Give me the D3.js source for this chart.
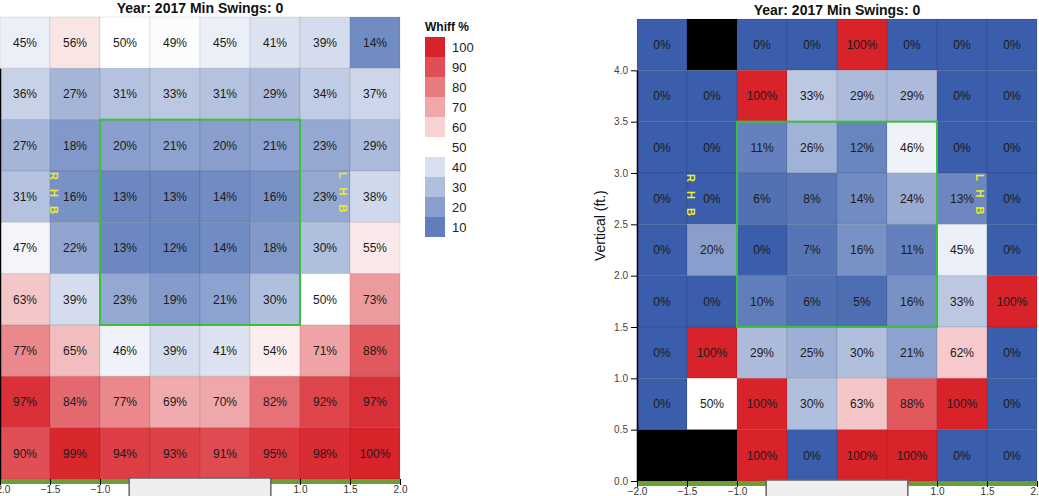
<!DOCTYPE html>
<html><head><meta charset="utf-8">
<script src="https://cdn.jsdelivr.net/npm/d3@7/dist/d3.min.js"></script>
<style>
body{margin:0;background:#fff;font-family:"Liberation Sans",Arial,sans-serif;}
svg{display:block}
</style></head><body>
<svg id="chart" width="1039" height="496"></svg>
<script>
// Horizontal bins (left edge, ft) and vertical bins (bottom edge, ft), top row first
const xBins = [-2.0, -1.5, -1.0, -0.5, 0.0, 0.5, 1.0, 1.5];
const zBins = [4.0, 3.5, 3.0, 2.5, 2.0, 1.5, 1.0, 0.5, 0.0];
const binSize = 0.5;
const titleText = "Year: 2017 Min Swings: 0";

// Left panel: Whiff % by zone (rows top to bottom)
const leftValues = [
  [45, 56, 50, 49, 45, 41, 39, 14],
  [36, 27, 31, 33, 31, 29, 34, 37],
  [27, 18, 20, 21, 20, 21, 23, 29],
  [31, 16, 13, 13, 14, 16, 23, 38],
  [47, 22, 13, 12, 14, 18, 30, 55],
  [63, 39, 23, 19, 21, 30, 50, 73],
  [77, 65, 46, 39, 41, 54, 71, 88],
  [97, 84, 77, 69, 70, 82, 92, 97],
  [90, 99, 94, 93, 91, 95, 98, 100]
];
// Right panel (null = no data, drawn black)
const rightValues = [
  [0, null, 0, 0, 100, 0, 0, 0],
  [0, 0, 100, 33, 29, 29, 0, 0],
  [0, 0, 11, 26, 12, 46, 0, 0],
  [0, 0, 6, 8, 14, 24, 13, 0],
  [0, 20, 0, 7, 16, 11, 45, 0],
  [0, 0, 10, 6, 5, 16, 33, 100],
  [0, 100, 29, 25, 30, 21, 62, 0],
  [0, 50, 100, 30, 63, 88, 100, 0],
  [null, null, 100, 0, 100, 100, 0, 0]
];
const legendSteps = [100, 90, 80, 70, 60, 50, 40, 30, 20, 10];
const xTicks = [-2.0, -1.5, -1.0, -0.5, 0.0, 0.5, 1.0, 1.5, 2.0];
const yTicks = [0.0, 0.5, 1.0, 1.5, 2.0, 2.5, 3.0, 3.5, 4.0];
const zone = {x0: -1.0, x1: 1.0, z0: 1.5, z1: 3.5};
const plateHalf = 17 / 24; // half of 17 in, in feet

const color = d3.scaleLinear().domain([0, 50, 100])
  .range(["#3a5eab", "#ffffff", "#d8232a"]);

const svg = d3.select("#chart");

function panel(values, ox, top, bottom, showYText) {
  const g = svg.append("g");
  const x = d3.scaleLinear().domain([-2, 2]).range([ox, ox + 400]);
  const y = d3.scaleLinear().domain([0, 4.5]).range([bottom, top]);

  const cells = [];
  values.forEach((row, r) => row.forEach((v, c) => cells.push({v, x0: xBins[c], z0: zBins[r]})));

  g.selectAll("rect.cell").data(cells).join("rect")
    .attr("class", "cell")
    .attr("x", d => x(d.x0))
    .attr("y", d => y(d.z0 + binSize))
    .attr("width", d => x(d.x0 + binSize) - x(d.x0))
    .attr("height", d => y(d.z0) - y(d.z0 + binSize))
    .attr("fill", d => d.v == null ? "#000" : color(d.v))
    .attr("stroke", "rgba(0,0,0,0.09)")
    .attr("stroke-width", 1);

  g.selectAll("text.val").data(cells.filter(d => d.v != null)).join("text")
    .attr("class", "val")
    .attr("x", d => x(d.x0 + binSize / 2))
    .attr("y", d => y(d.z0 + binSize / 2))
    .attr("dy", "0.35em")
    .attr("text-anchor", "middle")
    .attr("font-size", 12)
    .attr("fill", "#1a1a1a")
    .text(d => d.v + "%");

  // strike zone
  g.append("rect")
    .attr("x", x(zone.x0)).attr("y", y(zone.z1))
    .attr("width", x(zone.x1) - x(zone.x0))
    .attr("height", y(zone.z0) - y(zone.z1))
    .attr("fill", "none").attr("stroke", "#3cbf3c").attr("stroke-width", 2);

  // batter labels
  g.append("text")
    .attr("transform", `translate(${x(-1.5)},${y(3.0) + 1}) rotate(90)`)
    .attr("font-size", 11).attr("font-weight", "bold")
    .attr("letter-spacing", "3px")
    .attr("fill", "#eeee22").text("R H B");
  g.append("text")
    .attr("transform", `translate(${x(1.5) - 11},${y(3.0) + 1}) rotate(90)`)
    .attr("font-size", 11).attr("font-weight", "bold")
    .attr("letter-spacing", "3px")
    .attr("fill", "#eeee22").text("L H B");

  // ground band
  g.append("rect").attr("x", x(-2)).attr("y", bottom).attr("width", 400).attr("height", 5)
    .attr("fill", "#6b9e36");

  // x axis
  const xa = g.append("g").attr("transform", `translate(0,${bottom})`)
    .call(d3.axisBottom(x).tickValues(xTicks).tickFormat(d3.format(".1f")).tickSize(6).tickSizeOuter(0));
  xa.select(".domain").remove();
  xa.selectAll("text").attr("font-size", 10).attr("fill", "#333").attr("font-family", "Liberation Sans, Arial, sans-serif").attr("dy", "0.5em");

  // y axis
  const y4 = d3.scaleLinear().domain([0, 4]).range([y(0), y(4)]);
  const ya = g.append("g").attr("transform", `translate(${ox},0)`)
    .call(d3.axisLeft(y4).tickValues(yTicks).tickFormat(d3.format(".1f")).tickSize(6).tickSizeOuter(0));
  ya.select(".domain").attr("stroke", "#000").attr("stroke-width", 1.5);
  if (showYText) {
    ya.selectAll("text").attr("font-size", 10).attr("fill", "#444").attr("font-family", "Liberation Sans, Arial, sans-serif");
  } else {
    ya.selectAll("text").remove();
  }

  // home plate
  g.append("rect").attr("x", x(-plateHalf)).attr("y", bottom - 1)
    .attr("width", x(plateHalf) - x(-plateHalf)).attr("height", 40)
    .attr("fill", "#eeeeee").attr("stroke", "#666").attr("stroke-width", 1.5);

  // title
  g.append("text").attr("x", x(0)).attr("y", top - 4)
    .attr("text-anchor", "middle").attr("font-size", 14).attr("font-weight", "bold")
    .attr("fill", "#111").text(titleText);

  if (showYText) {
    g.append("text")
      .attr("transform", `translate(${ox - 32},${(y(0) + y(4)) / 2 - 50}) rotate(-90)`)
      .attr("text-anchor", "middle").attr("font-size", 14).attr("fill", "#111")
      .text("Vertical (ft.)");
  }
}

// left panel is scrolled so its y axis labels lie off-screen
panel(leftValues, 0, 17, 479, false);
panel(rightValues, 637, 19, 481, true);

// legend
const lg = svg.append("g");
lg.append("text").attr("x", 425).attr("y", 31).attr("font-size", 12).attr("font-weight", "bold")
  .attr("fill", "#111").text("Whiff %");
lg.selectAll("rect").data(legendSteps).join("rect")
  .attr("x", 425).attr("y", (d, i) => 37 + i * 20).attr("width", 20).attr("height", 20)
  .attr("fill", d => color(d));
lg.selectAll("text.lab").data(legendSteps).join("text").attr("class", "lab")
  .attr("x", 452).attr("y", (d, i) => 47 + i * 20).attr("dy", "0.35em")
  .attr("font-size", 13).attr("fill", "#222").text(d => d);
</script>
</body></html>
